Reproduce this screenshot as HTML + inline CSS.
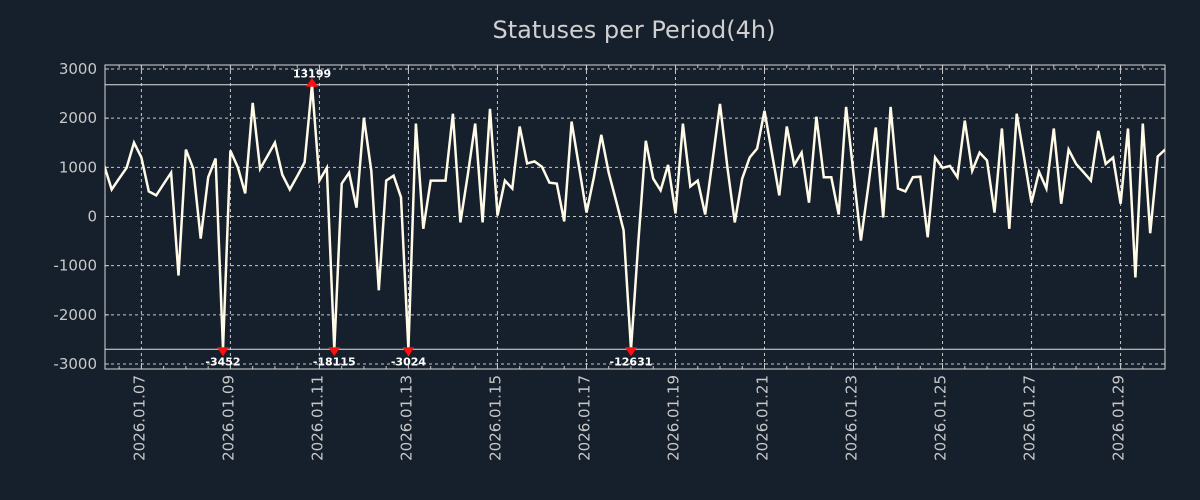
<!DOCTYPE html>
<html><head><meta charset="utf-8">
<style>
html,body{margin:0;padding:0;background:#161f2c;}
svg{display:block;font-family:"DejaVu Sans","Liberation Sans",sans-serif;}
</style></head>
<body>
<svg id="chart" width="1200" height="500" viewBox="0 0 1200 500" xmlns="http://www.w3.org/2000/svg">
<rect x="0" y="0" width="1200" height="500" fill="#161f2c"/>
<text x="634" y="38" text-anchor="middle" font-size="24" fill="#d0d0d0">Statuses per Period(4h)</text>
<g id="grid"></g>
<g id="axes"></g>
<g id="series"></g>
<g id="marks"></g>
</svg>
<script>
// 4h periods starting 2026-01-06 04:00
const values = [1030,550,770,990,1500,1200,510,430,660,890,-1200,1360,970,-450,800,1180,-3452,1340,1000,470,
2310,970,1230,1500,850,550,820,1100,13199,730,990,-18115,670,890,180,2010,930,-1500,730,830,
390,-3024,1890,-250,730,730,730,2090,-120,850,1890,-120,2190,20,730,570,1830,1080,1120,1010,
690,670,-100,1930,1000,80,800,1660,890,320,-280,-12631,-500,1540,770,530,1050,60,1890,610,
730,40,1150,2290,1000,-120,770,1200,1380,2150,1290,430,1830,1050,1300,280,2030,800,800,40,
2230,870,-490,630,1810,-20,2230,570,510,800,810,-420,1200,990,1030,800,1950,930,1300,1140,
80,1790,-250,2090,1200,280,910,570,1790,260,1360,1070,900,730,1740,1070,1200,260,1790,-1240,
1890,-340,1220,1360];
const yTicks = [3000,2000,1000,0,-1000,-2000,-3000];
const xTickLabels = ["2026.01.07","2026.01.09","2026.01.11","2026.01.13","2026.01.15","2026.01.17","2026.01.19","2026.01.21","2026.01.23","2026.01.25","2026.01.27","2026.01.29"];
const xTickFirstIndex = 5;
const xTickStep = 12;
const clipHigh = 2680;
const clipLow = -2700;

const NS = "http://www.w3.org/2000/svg";
const L = 105, R = 1165, T = 65, B = 369;
const X0 = 104.3, DX = 7.418;
function xs(i){ return X0 + DX * i; }
function ys(v){ return 216.5 - v * 0.04917; }
function mk(tag, attrs, parent){
  const e = document.createElementNS(NS, tag);
  for (const k in attrs) e.setAttribute(k, attrs[k]);
  parent.appendChild(e);
  return e;
}
const grid = document.getElementById('grid');
const axes = document.getElementById('axes');
const series = document.getElementById('series');
const marks = document.getElementById('marks');

yTicks.forEach(v => {
  const y = ys(v);
  const g = mk('line', {x1:L, x2:R, y1:y, y2:y, stroke:'#c8c8c8', 'stroke-width':1, 'stroke-dasharray':'3,3'}, grid);
  
  
  const t = mk('text', {x:97, y:y+5, 'text-anchor':'end', 'font-size':15, fill:'#c8c8c8'}, axes);
  t.textContent = v;
  
  
  mk('line', {x1:L, x2:L+4, y1:y, y2:y, stroke:'#c8c8c8'}, axes);
  mk('line', {x1:R-4, x2:R, y1:y, y2:y, stroke:'#c8c8c8'}, axes);
});
for (let i = xTickFirstIndex - 3; i < values.length; i += 3) {
  const x = xs(i);
  if (x < L || x > R) continue;
  const major = (i - xTickFirstIndex) % xTickStep === 0;
  const len = major ? 6 : 3;
  mk('line', {x1:x, x2:x, y1:T, y2:T+len, stroke:'#c8c8c8'}, axes);
  mk('line', {x1:x, x2:x, y1:B, y2:B-len, stroke:'#c8c8c8'}, axes);
}
xTickLabels.forEach((lab, k) => {
  const x = xs(xTickFirstIndex + k * xTickStep);
  const g = mk('line', {x1:x, x2:x, y1:T, y2:B, stroke:'#c8c8c8', 'stroke-width':1, 'stroke-dasharray':'3,3'}, grid);
  
  
  const t = mk('text', {x:0, y:0, 'text-anchor':'end', 'font-size':15, fill:'#c8c8c8', transform:`translate(${x+3},375) rotate(-90)`}, axes);
  t.textContent = lab;
  
  
});
[clipHigh, clipLow].forEach(v => {
  const l = mk('line', {x1:L, x2:R, y1:ys(v), y2:ys(v), stroke:'#e0e0e0', 'stroke-width':1}, grid);
  
  
});
const fr = mk('rect', {x:L, y:T, width:R-L, height:B-T, fill:'none', stroke:'#d8d8d8', 'stroke-width':1}, axes);



const pts = values.map((v, i) => {
  const c = Math.max(clipLow, Math.min(clipHigh, v));
  return xs(i).toFixed(1) + ',' + ys(c).toFixed(1);
});
const pl = mk('polyline', {points:pts.join(' '), fill:'none', stroke:'#fffbe6', 'stroke-width':2.5, 'stroke-linejoin':'miter'}, series);


const cp = mk('clipPath', {id:'pc'}, series);
mk('rect', {x:L, y:T, width:R-L, height:B-T}, cp);
series.setAttribute('clip-path', 'url(#pc)');

values.forEach((v, i) => {
  if (v > clipHigh || v < clipLow) {
    const x = xs(i);
    const hi = v > clipHigh;
    const y = ys(hi ? clipHigh : clipLow);
    const p = hi ? `${x-6},${y+2} ${x+6},${y+2} ${x},${y-7}` : `${x-6},${y-2} ${x+6},${y-2} ${x},${y+7}`;
    const m = mk('polygon', {points:p, fill:'#ff1010'}, marks);
    
    
    const t = mk('text', {x:x, y: hi ? y-7 : y+16, 'text-anchor':'middle', 'font-size':11, 'font-weight':'bold', fill:'#ffffff'}, marks);
    t.textContent = v;
    
    
  }
});
</script>
</body></html>
